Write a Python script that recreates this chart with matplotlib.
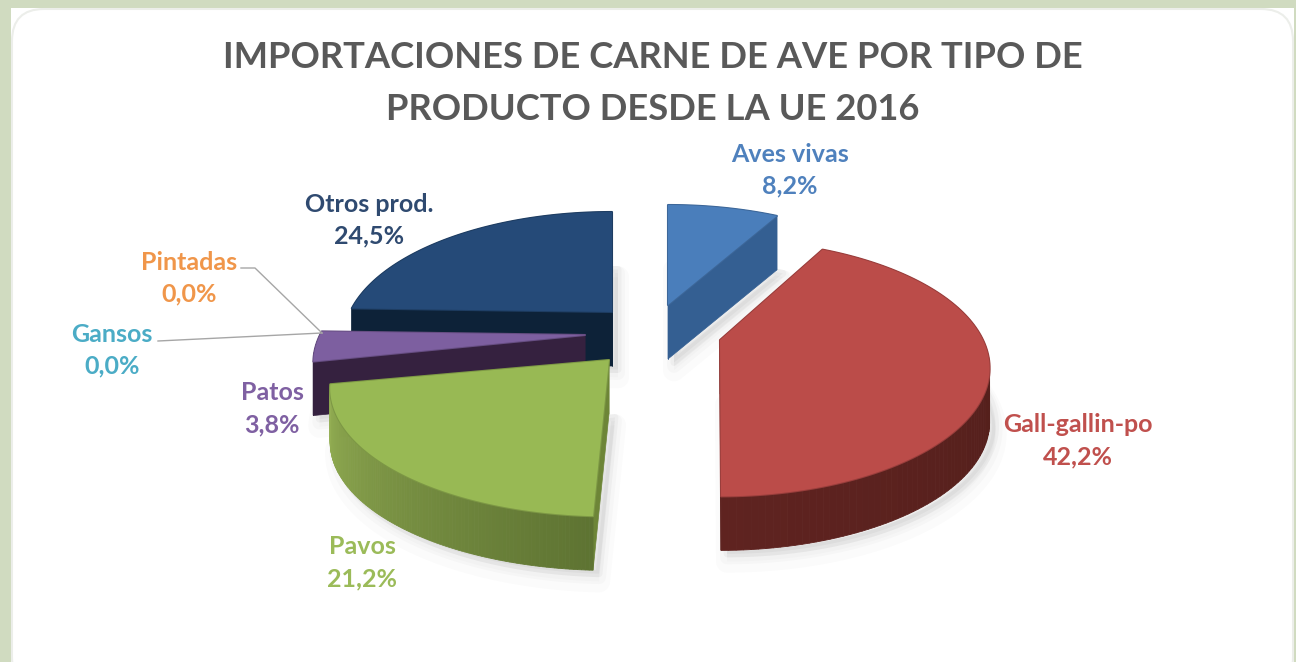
import numpy as np
import matplotlib
matplotlib.use("Agg")
import matplotlib.pyplot as plt
from matplotlib.patches import Polygon, FancyBboxPatch, Rectangle

categories = ["Aves vivas", "Gall-gallin-po", "Pavos", "Patos", "Gansos", "Pintadas", "Otros prod."]
values = [8.2, 42.2, 21.2, 3.8, 0.0, 0.0, 24.5]
title_lines = ["IMPORTACIONES DE CARNE DE AVE POR TIPO DE", "PRODUCTO DESDE LA UE 2016"]

# styles (per category)
top_cols = ["#4a7ebb", "#bb4c49", "#98b954", "#7d5fa0", "#4bacc6", "#f79646", "#254a78"]
wall_radial = ["#345f92", "#5a1f1c", "#6d8537", "#35213f", "#2f7f94", "#b86a28", "#0d2238"]
wall_outer_a = ["#345f92", "#4a1c18", "#5e7332", "#35213f", "#2f7f94", "#b86a28", "#0d2238"]
wall_outer_b = ["#345f92", "#5f2320", "#93ae53", "#35213f", "#2f7f94", "#b86a28", "#0d2238"]
label_cols = ["#4f81bd", "#c0504d", "#9bbb59", "#7f60a2", "#4bacc6", "#f0964a", "#2f4a70"]
apex_x = [668, 720, 609, 585, 322, 322, 612]
apex_y = [305, 340, 360, 335, 333, 333, 312]
radius = [263, 263, 272, 265, 272, 272, 262]
tilt_deg = [0, -1.8, 1.0, 0, 0, 0, 0]
label_x = [790, 1078, 362, 272, 112, 189, 369]
label_y = [154, 425, 547, 393, 334, 262, 204]
DEPTH, A, K = 54, 122, 0.22

fig = plt.figure(figsize=(12.96, 6.62), dpi=100, facecolor="#d0dbc0")
ax = fig.add_axes([0, 0, 1, 1])
ax.set_xlim(0, 1296); ax.set_ylim(662, 0); ax.axis("off")
ax.add_patch(Rectangle((11, 8), 1283, 660, fc="white", ec="none", zorder=0))
ax.add_patch(FancyBboxPatch((12, 9), 1281, 680, boxstyle="round,pad=0,rounding_size=32",
                            fc="white", ec="#eceeea", lw=1.5, zorder=0.5))
plt.rcParams["font.family"] = ["Lato", "DejaVu Sans"]


def project(i, theta, r=1.0):
    theta = theta + np.deg2rad(tilt_deg[i])
    x, y = r * np.sin(theta), r * np.cos(theta)
    s = 1 / (1 + K * y)
    return apex_x[i] + radius[i] * x * s, apex_y[i] - A * y * s


def mix(a, b, t):
    ca, cb = np.array(matplotlib.colors.to_rgb(a)), np.array(matplotlib.colors.to_rgb(b))
    return tuple(ca + (cb - ca) * t)


fracs = np.array(values) / sum(values)
edges = np.concatenate([[0], np.cumsum(fracs)]) * 2 * np.pi
order = [6, 3, 0, 2, 1]

# soft shadows
for i in order:
    th = np.linspace(edges[i], edges[i + 1], 80)
    px, py = project(i, th)
    pts = np.column_stack([np.r_[apex_x[i], px], np.r_[apex_y[i], py]])
    for grow, al in [(16, .015), (10, .02), (5, .03)]:
        ax.add_patch(Polygon(pts + [6, DEPTH + grow * .7], closed=True, fc="black",
                             ec="black", lw=grow, alpha=al, joinstyle="round", zorder=1))

z = 2
for i in order:
    th = np.linspace(edges[i], edges[i + 1], 120)
    px, py = project(i, th)
    # radial walls
    for end in (0, -1):
        ax.add_patch(Polygon([(apex_x[i], apex_y[i]), (px[end], py[end]),
                              (px[end], py[end] + DEPTH), (apex_x[i], apex_y[i] + DEPTH)],
                             closed=True, fc=wall_radial[i], ec=wall_radial[i], lw=.5, zorder=z))
    # outer curved wall, shaded segment by segment
    for j in range(len(th) - 1):
        t = j / (len(th) - 2)
        c = mix(wall_outer_a[i], wall_outer_b[i], t)
        ax.add_patch(Polygon([(px[j], py[j]), (px[j + 1], py[j + 1]),
                              (px[j + 1], py[j + 1] + DEPTH), (px[j], py[j] + DEPTH)],
                             closed=True, fc=c, ec=c, lw=.6, zorder=z))
    # top face with a soft rim
    top = np.column_stack([np.r_[apex_x[i], px], np.r_[apex_y[i], py]])
    ax.add_patch(Polygon(top, closed=True, fc=mix(top_cols[i], "black", .18), ec=mix(top_cols[i], "black", .18),
                         lw=1.5, joinstyle="round", zorder=z + .1))
    ax.add_patch(Polygon(top, closed=True, fc=top_cols[i], ec=top_cols[i], lw=0, zorder=z + .2))
    z += 1

# leader lines for the empty slices
ax.plot([241, 255, 322], [268, 268, 333], color="#a6a6a6", lw=1, zorder=20)
ax.plot([158, 322], [341, 333], color="#a6a6a6", lw=1, zorder=20)

for i, name in enumerate(categories):
    pct = f"{values[i]:.1f}%".replace(".", ",")
    ax.text(label_x[i], label_y[i], name, color=label_cols[i], fontsize=18, fontweight="bold",
            ha="center", va="center", zorder=30)
    ax.text(label_x[i], label_y[i] + 32, pct, color=label_cols[i], fontsize=18, fontweight="bold",
            ha="center", va="center", zorder=30)

ax.text(653, 57, title_lines[0], color="#595959", fontsize=26.2, fontweight="bold", ha="center", va="center", zorder=30)
ax.text(653, 110, title_lines[1], color="#595959", fontsize=26.2, fontweight="bold", ha="center", va="center", zorder=30)

fig.savefig("out.png", dpi=100, facecolor=fig.get_facecolor())
